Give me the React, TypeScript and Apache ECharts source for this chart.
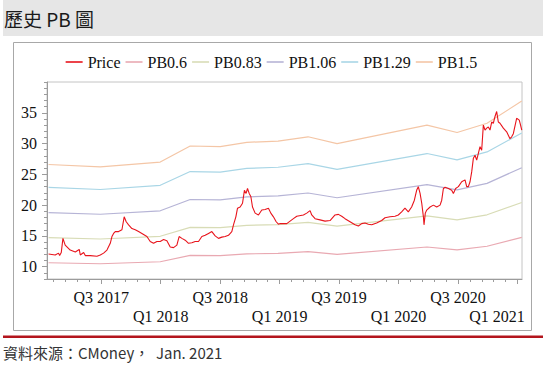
import React, { useEffect, useRef } from "react";
import * as echarts from "echarts";

// ---- data ----
// time is expressed as fractional year
const priceTime = [
  2017.057, 2017.113, 2017.141, 2017.15, 2017.164, 2017.178, 2017.197, 2017.239, 2017.282, 2017.315,
  2017.324, 2017.352, 2017.366, 2017.408, 2017.464, 2017.492, 2017.52, 2017.548, 2017.576, 2017.59,
  2017.604, 2017.618, 2017.646, 2017.674, 2017.693, 2017.71, 2017.73, 2017.758, 2017.786, 2017.814,
  2017.842, 2017.884, 2017.912, 2017.94, 2017.968, 2017.996, 2018.024, 2018.052, 2018.08, 2018.108,
  2018.136, 2018.155, 2018.178, 2018.206, 2018.234, 2018.262, 2018.29, 2018.318, 2018.346, 2018.374,
  2018.402, 2018.43, 2018.458, 2018.486, 2018.514, 2018.542, 2018.57, 2018.598, 2018.612, 2018.632,
  2018.646, 2018.668, 2018.688, 2018.704, 2018.718, 2018.73, 2018.744, 2018.758, 2018.772, 2018.794,
  2018.822, 2018.85, 2018.878, 2018.906, 2018.926, 2018.948, 2018.971, 2018.99, 2019.004, 2019.06,
  2019.116, 2019.144, 2019.2, 2019.228, 2019.256, 2019.27, 2019.298, 2019.34, 2019.382, 2019.424,
  2019.466, 2019.494, 2019.522, 2019.55, 2019.592, 2019.634, 2019.662, 2019.69, 2019.718, 2019.746,
  2019.774, 2019.816, 2019.858, 2019.886, 2019.928, 2019.97, 2019.998, 2020.026, 2020.054, 2020.082,
  2020.11, 2020.133, 2020.152, 2020.166, 2020.181, 2020.195, 2020.209, 2020.214, 2020.225, 2020.237,
  2020.265, 2020.293, 2020.321, 2020.349, 2020.363, 2020.377, 2020.391, 2020.419, 2020.447, 2020.461,
  2020.48, 2020.503, 2020.531, 2020.559, 2020.573, 2020.587, 2020.601, 2020.615, 2020.629, 2020.643,
  2020.657, 2020.671, 2020.685, 2020.699, 2020.713, 2020.727, 2020.741, 2020.755, 2020.769, 2020.783,
  2020.797, 2020.811, 2020.825, 2020.839, 2020.853, 2020.881, 2020.909, 2020.937, 2020.951, 2020.965,
  2020.993, 2021.015, 2021.026, 2021.036,
];
const priceValue = [
  12.06, 11.9, 12.2, 11.8, 12.3, 14.6, 13.5, 12.7, 12.4, 12.8,
  11.9, 12.3, 11.8, 11.8, 11.7, 11.9, 12.2, 12.7, 13.8, 14.9,
  15.4, 15.7, 15.7, 16.0, 18.1, 17.3, 16.8, 16.2, 16.0, 15.7,
  15.4, 14.9, 14.1, 13.8, 14.1, 14.1, 14.4, 14.2, 13.2, 13.1,
  13.5, 14.9, 14.6, 14.3, 13.8, 13.9, 14.1, 14.1, 14.9, 15.1,
  15.4, 15.7, 15.0, 14.6, 14.8, 14.9, 15.1, 15.7, 16.8, 18.1,
  19.5, 19.7, 20.3, 22.4, 21.9, 22.7, 21.9, 21.4, 19.7, 18.7,
  18.4, 19.2, 19.3, 19.5, 18.7, 18.1, 17.3, 16.9, 17.0, 17.0,
  17.8, 18.2, 18.4, 18.7, 19.1, 18.4, 17.8, 17.6, 17.4, 17.5,
  18.4, 18.5, 18.2, 17.8, 17.3, 16.8, 16.6, 17.0, 17.1, 16.9,
  16.8, 17.1, 17.5, 17.95, 18.1, 18.2, 18.4, 18.9, 19.5, 18.9,
  19.7, 20.8, 22.4, 23.0, 21.9, 20.3, 18.1, 16.8, 18.7, 19.2,
  19.7, 20.0, 19.7, 20.0, 20.8, 22.7, 22.9, 22.7, 22.4, 21.9,
  22.7, 23.0, 23.8, 24.1, 23.0, 23.0, 23.8, 25.4, 27.6, 28.1,
  27.3, 28.4, 29.5, 28.9, 33.0, 32.2, 32.5, 32.7, 32.2, 33.5,
  33.3, 34.4, 35.2, 33.5, 33.3, 32.5, 31.9, 30.8, 31.1, 31.6,
  34.1, 33.8, 33.0, 32.2,
];

const pbTime = [2017.057, 2017.492, 2017.996, 2018.248, 2018.5, 2018.724, 2018.987, 2019.239, 2019.483, 2020.239, 2020.492, 2020.744, 2021.036];
const pb06 = [10.64, 10.48, 10.8, 11.84, 11.8, 12.08, 12.16, 12.44, 12.0, 13.2, 12.72, 13.32, 14.76];
const pb083 = [14.72, 14.5, 14.94, 16.38, 16.33, 16.71, 16.82, 17.21, 16.6, 18.26, 17.6, 18.43, 20.42];
const pb106 = [18.79, 18.52, 19.08, 20.91, 20.85, 21.34, 21.49, 21.97, 21.2, 23.32, 22.47, 23.53, 26.08];
const pb129 = [22.87, 22.54, 23.22, 25.45, 25.37, 25.97, 26.15, 26.74, 25.8, 28.38, 27.35, 28.64, 31.73];
const pb15 = [26.6, 26.21, 27.0, 29.6, 29.51, 30.2, 30.41, 31.1, 30.0, 33.0, 31.8, 33.3, 36.9];

const seriesNames = ["Price", "PB0.6", "PB0.83", "PB1.06", "PB1.29", "PB1.5"];
const seriesColors = ["#e8141c", "#e9a9b2", "#d8dcb6", "#b6b4d6", "#a9d6e6", "#f4c6a6"];

const q3LabelTicks = [2017.5, 2018.5, 2019.5, 2020.5];
const q1LabelTicks = [2018, 2019, 2020, 2021];
const yLabelTicks = [10, 15, 20, 25, 30, 35];

const X_MIN = 2017.044;
const X_MAX = 2021.038;
const Y_MIN = 8;
const Y_MAX = 40;

const SERIF = "'Liberation Serif', 'Times New Roman', serif";
const CJK = "'Noto Sans CJK TC', 'Noto Sans', sans-serif";

export default function App() {
  const ref = useRef<HTMLDivElement>(null);

  useEffect(() => {
    if (!ref.current) return;
    const chart = echarts.init(ref.current, undefined, { renderer: "svg" });

    const majorX: number[] = [];
    for (let k = 0; k <= 7; k++) majorX.push(2017.5 + k * 0.5);
    const minorX: number[] = [];
    for (let k = 1; k <= 40; k++) minorX.push(2017 + k * 0.1);
    const minorY: number[] = [];
    for (let v = 8; v <= 40; v++) minorY.push(v);

    const pbSets = [pb06, pb083, pb106, pb129, pb15];

    const series: any[] = [];
    pbSets.forEach((arr, i) => {
      series.push({
        name: seriesNames[i + 1],
        type: "line",
        symbol: "none",
        z: 2,
        silent: true,
        data: pbTime.map((t, j) => [t, arr[j]]),
        lineStyle: { color: seriesColors[i + 1], width: 1.2 },
        itemStyle: { color: seriesColors[i + 1] },
      });
    });
    series.unshift({
      name: seriesNames[0],
      type: "line",
      symbol: "none",
      z: 3,
      silent: true,
      data: priceTime.map((t, j) => [t, priceValue[j]]),
      lineStyle: { color: seriesColors[0], width: 1.1 },
      itemStyle: { color: seriesColors[0] },
    });

    const axisGray = "#9c9c9c";

    chart.setOption({
      animation: false,
      backgroundColor: "#ffffff",
      grid: {
        left: 47,
        top: 82,
        width: 475,
        height: 197,
        show: true,
        borderColor: "#c4c4c4",
        borderWidth: 1,
        backgroundColor: "transparent",
      },
      legend: {
        data: seriesNames,
        left: "center",
        top: 49,
        icon: "rect",
        itemWidth: 17,
        itemHeight: 1.6,
        itemGap: 5,
        textStyle: { fontFamily: SERIF, fontSize: 16, color: "#111" },
      },
      xAxis: [
        {
          type: "value",
          min: X_MIN,
          max: X_MAX,
          position: "bottom",
          axisLine: { show: true, lineStyle: { color: axisGray } },
          axisTick: { show: true, customValues: majorX, length: 5, lineStyle: { color: axisGray } },
          axisLabel: {
            customValues: q3LabelTicks,
            margin: 10,
            fontFamily: SERIF,
            fontSize: 16,
            color: "#111",
            formatter: (v: number) => `Q3 ${Math.floor(v)}`,
          },
          splitLine: { show: false },
        },
        {
          type: "value",
          min: X_MIN,
          max: X_MAX,
          position: "bottom",
          axisLine: { show: false },
          axisTick: { show: true, customValues: minorX, length: 3, lineStyle: { color: axisGray } },
          axisLabel: {
            customValues: q1LabelTicks,
            margin: 29,
            fontFamily: SERIF,
            fontSize: 16,
            color: "#111",
            formatter: (v: number) => {
              const y = Math.round(v);
              return y === 2021 ? `{s|Q1 ${y}}` : `Q1 ${y}`;
            },
            rich: {
              s: { fontFamily: SERIF, fontSize: 16, color: "#111", padding: [0, 41, 0, 0] },
            },
          },
          splitLine: { show: false },
        },
      ],
      yAxis: [
        {
          type: "value",
          min: Y_MIN,
          max: Y_MAX,
          position: "left",
          axisLine: { show: true, lineStyle: { color: axisGray } },
          axisTick: { show: true, customValues: yLabelTicks, length: 5, lineStyle: { color: axisGray } },
          axisLabel: {
            customValues: yLabelTicks,
            margin: 10,
            fontFamily: SERIF,
            fontSize: 16,
            color: "#111",
          },
          splitLine: { show: false },
        },
        {
          type: "value",
          min: Y_MIN,
          max: Y_MAX,
          position: "left",
          axisLine: { show: false },
          axisTick: { show: true, customValues: minorY, length: 3, lineStyle: { color: axisGray } },
          axisLabel: { show: false },
          splitLine: { show: false },
        },
      ],
      graphic: [
        {
          type: "rect",
          shape: { x: 3, y: 0, width: 540, height: 36 },
          style: { fill: "#e6e6e6" },
          silent: true,
          z: -10,
        },
        {
          type: "text",
          x: 4,
          y: 18,
          style: {
            text: "歷史 PB 圖",
            fontFamily: CJK,
            fontSize: 19,
            fill: "#1a1a1a",
            verticalAlign: "middle",
          },
          silent: true,
        },
        {
          type: "rect",
          shape: { x: 13.5, y: 42.5, width: 518, height: 288 },
          style: { fill: "none", stroke: "#a8a8a8", lineWidth: 1 },
          silent: true,
          z: -5,
        },
        {
          type: "rect",
          shape: { x: 3, y: 335.5, width: 540, height: 2.5 },
          style: { fill: "#b3151d" },
          silent: true,
        },
        {
          type: "text",
          x: 3,
          y: 352,
          style: {
            text: "資料來源：CMoney，  Jan. 2021",
            fontFamily: CJK,
            fontSize: 15,
            fill: "#333333",
            verticalAlign: "middle",
          },
          silent: true,
        },
      ],
      series,
    });

    return () => chart.dispose();
  }, []);

  return (
    <div
      ref={ref}
      style={{ position: "fixed", left: 0, top: 0, width: 543, height: 378, background: "#fff" }}
    />
  );
}
